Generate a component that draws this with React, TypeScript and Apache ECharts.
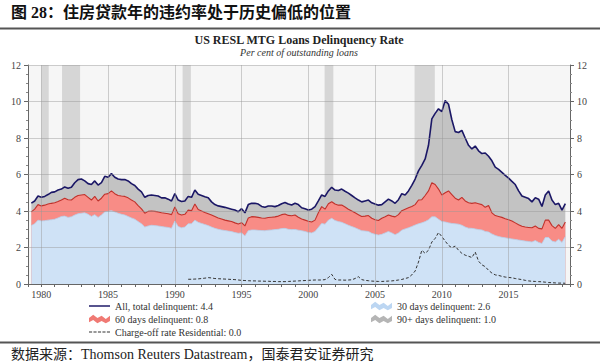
import React, { useEffect, useRef } from "react";
import * as echarts from "echarts";

// quarterly observations, first one at 1979 Q2 (1979.25)
const quarterStart = 1979.25;

// All, total delinquent (%) = 30 + 60 + 90+ days
const totalDelinquent = [
  4.43, 4.55, 4.82,
  4.75, 4.8, 4.9, 5.02,
  5.05, 5.15, 5.2, 5.32,
  5.25, 5.3, 5.55, 5.72,
  5.75, 5.65, 5.5, 5.45,
  5.65, 5.42, 5.55, 5.9,
  5.85, 6.05, 5.85, 5.75,
  5.72, 5.72, 5.65, 5.5,
  5.4, 5.2, 5.05, 4.75,
  4.85, 4.88, 4.85, 4.82,
  4.72, 4.72, 4.65, 4.55,
  4.95, 4.6, 4.52, 4.55,
  4.8, 4.75, 5.15, 4.92,
  4.85, 4.78, 4.72, 4.5,
  4.35, 4.28, 4.24, 4.2,
  4.15, 4.1, 4.05, 3.96,
  4.13, 3.9, 4.35, 4.42,
  4.42, 4.38, 4.25, 4.2,
  4.27, 4.27, 4.24, 4.3,
  4.4, 4.47, 4.38, 4.33,
  4.42, 4.35, 4.18, 4.12,
  4.05, 4.1, 4.24, 4.55,
  4.88, 4.8, 5.1, 5.3,
  5.15, 5.12, 5.2, 5.08,
  4.98, 4.85, 4.72, 4.6,
  4.5, 4.55, 4.6, 4.45,
  4.38, 4.32, 4.35, 4.5,
  4.65, 4.55, 4.42, 4.62,
  4.95, 4.88, 5.1, 5.4,
  5.75, 6.2, 6.5, 6.85,
  7.6, 9.05, 9.35, 9.6,
  9.45, 10.05, 9.85, 9.0,
  8.35, 8.3, 8.42, 8.0,
  7.6, 7.4, 7.56, 7.3,
  7.15, 7.18, 7.0, 6.75,
  6.4, 6.28, 6.12, 5.95,
  5.8, 5.62, 5.45, 5.1,
  4.82, 4.75, 4.68, 4.5,
  4.72, 4.65, 4.25, 4.88,
  5.1, 4.6, 4.35, 4.42,
  4.05, 4.4,
];

// 30 + 60 days delinquent (%): top of the 60-day band
const thirtyPlusSixty = [
  3.95, 4.1, 4.35,
  4.28, 4.32, 4.38, 4.42,
  4.45, 4.52, 4.6, 4.7,
  4.62, 4.6, 4.75, 4.85,
  4.88, 4.9, 4.75, 4.6,
  4.8, 4.55, 4.7, 4.92,
  4.95, 5.1, 4.95, 4.85,
  4.82, 4.8, 4.72, 4.6,
  4.5, 4.3, 4.12, 3.88,
  3.98, 4.0, 3.98, 3.95,
  3.9, 3.88, 3.85, 3.8,
  4.22, 3.85, 3.78, 3.82,
  4.05, 4.02, 4.38, 4.08,
  4.0, 3.92, 3.85, 3.78,
  3.7, 3.62, 3.56, 3.5,
  3.46, 3.42, 3.35, 3.29,
  3.36, 3.18, 3.62, 3.69,
  3.68, 3.65, 3.62, 3.6,
  3.64, 3.66, 3.68, 3.72,
  3.8, 3.84, 3.76, 3.74,
  3.78, 3.66, 3.56, 3.5,
  3.44, 3.4, 3.5, 3.9,
  4.24, 4.1, 4.4, 4.51,
  4.38, 4.32, 4.33, 4.22,
  4.1, 4.0, 3.9, 3.8,
  3.7, 3.72, 3.75, 3.6,
  3.52, 3.48, 3.6, 3.68,
  3.78, 3.72, 3.68, 3.8,
  4.02, 4.1, 4.18, 4.25,
  4.35, 4.6, 4.62, 4.85,
  5.1, 5.55, 5.45, 5.2,
  4.88, 5.0, 5.1, 4.9,
  4.7, 4.6, 4.75, 4.55,
  4.45, 4.42, 4.45, 4.4,
  4.35, 4.2, 4.3, 3.9,
  3.75, 3.7, 3.65, 3.58,
  3.52, 3.45, 3.35, 3.25,
  3.16, 3.12, 3.1, 3.08,
  3.18, 3.05, 3.02, 3.5,
  3.5, 3.2, 3.05, 3.25,
  3.05, 3.4,
];

// 30 days delinquent (%)
const thirtyDay = [
  3.2, 3.3, 3.5,
  3.45, 3.47, 3.5, 3.52,
  3.55, 3.62, 3.7, 3.72,
  3.65, 3.68, 3.78, 3.85,
  3.88, 3.9, 3.82, 3.7,
  3.8, 3.65, 3.78, 3.95,
  3.98, 4.02, 3.95, 3.88,
  3.82, 3.78, 3.7, 3.62,
  3.55, 3.42, 3.3, 3.12,
  3.18, 3.22, 3.2, 3.18,
  3.15, 3.12, 3.1, 3.05,
  3.45, 3.15, 3.08, 3.12,
  3.3, 3.3, 3.5, 3.38,
  3.32, 3.26, 3.2, 3.12,
  3.05, 3.0, 2.96, 2.93,
  2.9, 2.87, 2.82, 2.78,
  2.8, 2.63, 2.92, 2.96,
  2.96, 2.94, 2.93, 2.92,
  2.95, 2.96, 2.98, 3.0,
  3.04, 3.05, 3.0, 2.98,
  2.99, 2.95, 2.92, 2.88,
  2.82, 2.8, 2.88, 3.1,
  3.32, 3.28, 3.5, 3.6,
  3.48, 3.42, 3.38, 3.3,
  3.22, 3.15, 3.08, 3.0,
  2.92, 2.9, 2.88, 2.78,
  2.72, 2.68, 2.72, 2.8,
  2.88, 2.8, 2.7, 2.8,
  2.95, 3.02, 3.08, 3.15,
  3.23, 3.3, 3.35, 3.42,
  3.52, 3.68, 3.68, 3.55,
  3.42, 3.4, 3.35, 3.32,
  3.3, 3.28, 3.22, 3.12,
  3.06, 3.05, 3.02, 2.98,
  2.96, 2.88, 2.85, 2.74,
  2.66, 2.6, 2.56, 2.53,
  2.5, 2.47, 2.44, 2.41,
  2.38, 2.35, 2.33, 2.3,
  2.38, 2.28, 2.22, 2.55,
  2.55, 2.35, 2.3, 2.45,
  2.28, 2.6,
];

// Charge-off rate, residential (%), quarterly from 1991 Q1
const chargeOffStart = 1991;
const chargeOff = [
  0.26, 0.26, 0.27, 0.28,
  0.3, 0.32, 0.35, 0.33,
  0.3, 0.29, 0.28, 0.27,
  0.26, 0.25, 0.24, 0.22,
  0.2, 0.19, 0.18, 0.17,
  0.17, 0.16, 0.16, 0.15,
  0.15, 0.14, 0.14, 0.13,
  0.13, 0.13, 0.14, 0.15,
  0.16, 0.17, 0.18, 0.19,
  0.2, 0.21, 0.22, 0.22,
  0.22, 0.24, 0.35, 0.53,
  0.25, 0.22, 0.22, 0.21,
  0.22, 0.23, 0.3, 0.4,
  0.24, 0.2, 0.18, 0.16,
  0.15, 0.14, 0.14, 0.15,
  0.16, 0.17, 0.19, 0.22,
  0.25, 0.3, 0.35, 0.5,
  0.71, 1.2, 1.85, 1.68,
  1.85, 2.3, 2.5, 2.82,
  2.6, 2.35, 2.12, 1.98,
  2.08, 1.85, 1.68, 1.58,
  1.52, 1.45, 1.75, 1.25,
  1.05, 0.95, 0.75, 0.6,
  0.5, 0.47, 0.42, 0.38,
  0.36, 0.34, 0.3, 0.27,
  0.24, 0.2, 0.17, 0.15,
  0.14, 0.13, 0.12, 0.1,
  0.08, 0.07, 0.06, 0.05,
  0.05, 0.04,
];

// US recessions (shaded)
const recessions: [number, number][] = [
  [1980.0, 1980.55],
  [1981.55, 1982.9],
  [1990.58, 1991.2],
  [2001.22, 2001.87],
  [2007.96, 2009.47],
];

const xLabels = [1980, 1985, 1990, 1995, 2000, 2005, 2010, 2015];
const yTicks = [2, 4, 6, 8, 10, 12];

const legendNames = {
  total: "All, total delinquent: 4.4",
  sixty: "60 days delinquent: 0.8",
  charge: "Charge-off rate Residential: 0.0",
  thirty: "30 days delinquent: 2.6",
  ninety: "90+ days delinquent: 1.0",
};

const SERIF = '"Liberation Serif", "Times New Roman", "Noto Sans CJK SC", serif';
const TITLE_FONT = '"Liberation Serif", "Noto Sans CJK SC", serif';

export default function App() {
  const ref = useRef<HTMLDivElement>(null);

  useEffect(() => {
    if (!ref.current) return;
    const chart = echarts.init(ref.current, undefined, { renderer: "svg" });

    const qx = (i: number) => +(quarterStart + i * 0.25).toFixed(2);

    // Bands are drawn as opaque areas layered from the top down:
    // grey (90+) fills up to the total, red (60) up to 30+60, blue (30) up to 30.
    const thirtyData = thirtyDay.map((v, i) => [qx(i), v]);
    const sixtyTopData = thirtyPlusSixty.map((v, i) => [qx(i), v]);
    const totalData = totalDelinquent.map((v, i) => [qx(i), v]);
    const chargeData = chargeOff.map((v, i) => [+(chargeOffStart + i * 0.25).toFixed(2), v]);

    const areaIcon =
      "path://M0,6 L4,3 L8,6 L12,4 L16,7 L20,4 L20,9 L16,11 L12,9 L8,11 L4,8 L0,10 Z";
    const lineIcon = "path://M0,0 L20,0 L20,1.4 L0,1.4 Z";
    const dashIcon =
      "path://M0,0h3v1h-3z M4.3,0h3v1h-3z M8.6,0h3v1h-3z M12.9,0h3v1h-3z M17.2,0h3v1h-3z";

    const yAxisBase = {
      type: "value" as const,
      min: 0,
      max: 12,
      interval: 2,
      splitLine: { show: false },
      axisLine: { show: true, lineStyle: { color: "#666", width: 1 } },
      axisTick: { show: true, length: 4, lineStyle: { color: "#666" } },
      minorTick: { show: true, splitNumber: 4, length: 2, lineStyle: { color: "#888" } },
      axisLabel: { fontFamily: SERIF, fontSize: 10, color: "#444", margin: 7 },
    };

    const legendText = { fontFamily: SERIF, fontSize: 10, color: "#333" };

    chart.setOption({
      animation: false,
      backgroundColor: "#ffffff",
      grid: {
        left: 28,
        right: 30,
        top: 65,
        bottom: 80,
        show: true,
        backgroundColor: "#f6f6f6",
        borderWidth: 0,
      },
      xAxis: {
        type: "value",
        min: 1979,
        max: 2019.6,
        interval: 1,
        splitLine: { show: false },
        axisLine: { show: true, onZero: false, lineStyle: { color: "#666", width: 1 } },
        axisTick: { show: true, length: 3, lineStyle: { color: "#666" } },
        axisLabel: {
          fontFamily: SERIF,
          fontSize: 10,
          color: "#444",
          margin: 5,
          formatter: (v: number) => (xLabels.indexOf(v) >= 0 ? String(v) : ""),
        },
      },
      yAxis: [
        { ...yAxisBase, position: "left" },
        { ...yAxisBase, position: "right" },
      ],
      legend: [
        {
          left: 89,
          top: 301,
          orient: "vertical",
          itemWidth: 21,
          itemHeight: 9,
          itemGap: 3,
          padding: 0,
          textStyle: legendText,
          data: [
            { name: legendNames.total, icon: lineIcon },
            { name: legendNames.sixty, icon: areaIcon },
            { name: legendNames.charge, icon: dashIcon },
          ],
          selectedMode: false,
        },
        {
          left: 371,
          top: 301,
          orient: "vertical",
          itemWidth: 21,
          itemHeight: 9,
          itemGap: 3,
          padding: 0,
          textStyle: legendText,
          data: [
            { name: legendNames.thirty, icon: areaIcon },
            { name: legendNames.ninety, icon: areaIcon },
          ],
          selectedMode: false,
        },
      ],
      series: [
        {
          name: legendNames.ninety,
          type: "line",
          data: totalData,
          showSymbol: false,
          symbol: "none",
          lineStyle: { width: 0 },
          itemStyle: { color: "#b5b5b5" },
          areaStyle: { color: "#c3c3c3", opacity: 1 },
          z: 1,
        },
        {
          name: legendNames.sixty,
          type: "line",
          data: sixtyTopData,
          showSymbol: false,
          symbol: "none",
          lineStyle: { width: 1.1, color: "#c0312b" },
          itemStyle: { color: "#f07a74" },
          areaStyle: { color: "#f88c86", opacity: 1 },
          z: 2,
        },
        {
          name: legendNames.thirty,
          type: "line",
          data: thirtyData,
          showSymbol: false,
          symbol: "none",
          lineStyle: { width: 0.8, color: "#b9d0ea" },
          itemStyle: { color: "#bcd6f2" },
          areaStyle: { color: "#cfe2f6", opacity: 1 },
          z: 3,
        },
        {
          name: legendNames.total,
          type: "line",
          data: totalData,
          showSymbol: false,
          symbol: "none",
          lineStyle: { width: 1.6, color: "#1b1766" },
          itemStyle: { color: "#1b1766" },
          z: 4,
        },
        {
          name: legendNames.charge,
          type: "line",
          data: chargeData,
          showSymbol: false,
          symbol: "none",
          lineStyle: { width: 1, color: "#333", type: [3, 2] },
          itemStyle: { color: "#333" },
          z: 4,
        },
        {
          name: "overlay",
          type: "line",
          data: [[2000, 0]],
          showSymbol: false,
          symbol: "none",
          lineStyle: { width: 0, opacity: 0 },
          silent: true,
          z: 6,
          markArea: {
            silent: true,
            itemStyle: { color: "rgba(120,120,120,0.25)" },
            label: { show: false },
            data: recessions.map(([a, b]) => [{ xAxis: a }, { xAxis: b }]),
          },
          markLine: {
            silent: true,
            symbol: "none",
            label: { show: false },
            lineStyle: { color: "rgba(150,150,150,0.45)", width: 1, type: "solid" },
            data: [
              ...xLabels.map((v) => ({ xAxis: v })),
              ...yTicks.map((v) => ({ yAxis: v })),
            ],
          },
        },
      ],
      graphic: [
        {
          type: "text",
          left: 11,
          top: 4,
          style: {
            text: "图 28：住房贷款年的违约率处于历史偏低的位置",
            font: `bold 16px ${TITLE_FONT}`,
            fill: "#111",
          },
        },
        {
          type: "line",
          shape: { x1: 0, y1: 28.5, x2: 600, y2: 28.5 },
          style: { stroke: "#555", lineWidth: 2 },
        },
        {
          type: "text",
          x: 299,
          y: 40,
          style: {
            text: "US RESL MTG Loans Delinquency Rate",
            font: `bold 12px ${SERIF}`,
            fill: "#222",
            textAlign: "center",
            textVerticalAlign: "middle",
          },
        },
        {
          type: "text",
          x: 299,
          y: 52,
          style: {
            text: "Per cent of outstanding loans",
            font: `italic 10px ${SERIF}`,
            fill: "#333",
            textAlign: "center",
            textVerticalAlign: "middle",
          },
        },
        {
          type: "line",
          shape: { x1: 0, y1: 342.5, x2: 600, y2: 342.5 },
          style: { stroke: "#555", lineWidth: 2 },
        },
        {
          type: "text",
          left: 11,
          top: 347,
          style: {
            text: "数据来源：Thomson Reuters Datastream，国泰君安证券研究",
            font: `14px ${TITLE_FONT}`,
            fill: "#222",
          },
        },
      ],
    });

    return () => chart.dispose();
  }, []);

  return (
    <div
      ref={ref}
      style={{ position: "fixed", left: 0, top: 0, width: 600, height: 364, background: "#fff" }}
    />
  );
}
